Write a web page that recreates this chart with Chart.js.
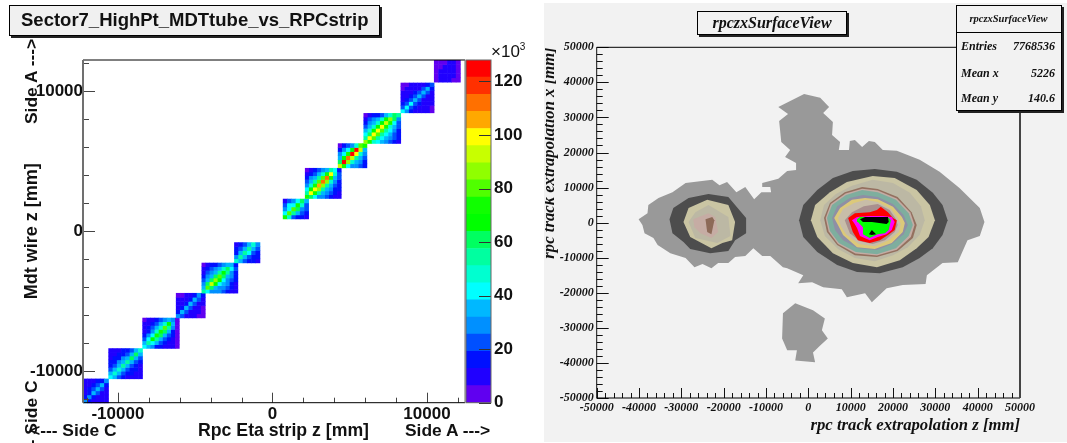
<!DOCTYPE html>
<html>
<head>
<meta charset="utf-8">
<script src="https://cdn.jsdelivr.net/npm/chart.js@4"></script>
<style>
html, body { margin: 0; padding: 0; background: #fff; overflow: hidden; }
#page { position: relative; width: 1067px; height: 443px; overflow: hidden; }
canvas { position: absolute; }
#panel { position: absolute; left: 544px; top: 3px; width: 523px; height: 439px; background: #f2f2f2; }
.t { position: absolute; white-space: nowrap; color: #111; }
.sans { font: bold 17.4px "Liberation Sans", Arial, sans-serif; }
.serif { font: italic bold 12px "Liberation Serif", "Times New Roman", serif; }
.box { position: absolute; border: 1px solid #000; box-shadow: 2px 2px 0 #222; box-sizing: border-box; }
.rot { transform: rotate(-90deg); transform-origin: left top; }
</style>
</head>
<body>
<div id="page">
  <div id="panel"></div>
  <canvas id="heat" width="545" height="443" style="left:0;top:0"></canvas>
  <canvas id="zbar" width="100" height="443" style="left:440px;top:0"></canvas>
  <canvas id="contour" width="522" height="443" style="left:545px;top:0"></canvas>

  <div class="t sans rot" style="left:21px;top:124px">Side A ---&gt;</div>
  <div class="t sans rot" style="left:21px;top:467px">&lt;--- Side C</div>
  <div class="box" style="left:9px;top:5px;width:371px;height:31px;background:#f0f0f0"></div>
  <div class="t sans" style="left:21px;top:9px;font-size:18.5px">Sector7_HighPt_MDTtube_vs_RPCstrip</div>
  <div class="t sans" style="left:30px;top:420px">&lt;--- Side C</div>
  <div class="t sans" style="left:198px;top:420px;font-size:17.7px">Rpc Eta strip z [mm]</div>
  <div class="t sans" style="left:405px;top:420px">Side A ---&gt;</div>
  <div class="t" style="left:491px;top:42px;font:17px 'Liberation Sans',Arial,sans-serif">×10<sup style="font-size:10px;line-height:0">3</sup></div>

  <div class="box" style="left:697px;top:11px;width:150px;height:24px;background:#f2f2f2"></div>
  <div class="t serif" style="left:697px;top:14px;width:150px;text-align:center;font-size:16px">rpczxSurfaceView</div>
  <div class="box" style="left:956px;top:5px;width:106px;height:106px;background:#f2f2f2"></div>
  <div style="position:absolute;left:956px;top:32px;width:105px;height:1px;background:#000"></div>
  <div class="t serif" style="left:956px;top:13px;width:105px;text-align:center;font-size:10.5px">rpczxSurfaceView</div>
  <div class="t serif" style="left:961px;top:39px">Entries</div>
  <div class="t serif" style="left:961px;top:66px">Mean x</div>
  <div class="t serif" style="left:961px;top:91px">Mean y</div>
  <div class="t serif" style="left:1000px;width:55px;top:39px;text-align:right">7768536</div>
  <div class="t serif" style="left:1000px;width:55px;top:66px;text-align:right">5226</div>
  <div class="t serif" style="left:1000px;width:55px;top:91px;text-align:right">140.6</div>
</div>

<script>
// left plot: bin ranges of each chamber block, [low, high] in mm
const blockStrip = [[-12260,-10620],[-10620,-8420],[-8420,-6040],[-6250,-4360],[-4590,-2250],[-2480,-820],
                    [670,2330],[2100,4440],[4230,6100],[5890,8290],[8290,10450],[10450,12150]];
const blockWire = [[-12230,-10510],[-10510,-8340],[-8340,-6160],[-6160,-4390],[-4390,-2230],[-2230,-770],
                   [910,2340],[2370,4540],[4560,6300],[6300,8460],[8490,10630],[10680,12250]];

// counts x 10^3, rows go from low wire z to high wire z
const blockCounts = [
  [[28,16,10,10,10,8],[16,30,18,12,10,8],[12,18,32,20,12,10],[10,14,20,32,20,12],[10,10,14,22,34,18],[7,9,10,14,18,28]],
  [[44,34,20,14,12,12,10,9],[34,46,34,20,16,14,12,10],[24,36,48,36,22,16,14,11],[18,24,36,52,38,24,16,12],
   [14,18,26,38,56,38,24,14],[12,14,18,26,38,58,38,20],[10,12,14,18,24,38,58,34],[7,9,11,13,16,22,34,48]],
  [[42,36,26,18,14,12,10,8,4],[34,56,44,32,20,16,12,9,4],[24,42,66,52,36,24,16,10,4],[16,26,44,72,58,38,24,14,5],
   [12,16,28,46,76,60,36,18,5],[10,14,20,32,50,78,52,26,6],[8,12,16,22,34,50,64,32,6],[5,9,12,16,22,30,36,26,5]],
  [[28,22,12,9,8,6,4],[14,32,20,11,9,7,5],[10,16,34,22,12,8,6],[9,12,18,36,22,12,8],[7,9,12,18,34,20,10],[4,6,8,10,16,26,14]],
  [[52,40,30,26,26,22,16,12,10],[38,82,62,36,30,28,22,14,11],[28,58,92,70,42,32,26,18,12],[20,36,60,88,68,42,30,22,14],
   [16,26,38,58,82,62,38,26,16],[12,20,28,38,54,70,52,28,18],[10,14,20,26,34,48,62,44,20],[6,10,14,18,22,28,36,38,18]],
  [[48,36,20,16,14,12],[30,54,38,22,18,14],[18,34,56,40,24,16],[14,22,36,56,36,20],[10,14,20,34,48,28]],
  [[76,50,24,18,16,12],[42,82,56,32,22,16],[30,44,80,60,30,20],[22,40,42,76,48,22],[12,24,30,42,62,34]],
  [[72,60,42,30,26,20,16,12,10],[52,96,76,52,38,28,20,16,12],[40,70,100,84,56,38,26,18,14],[30,48,76,108,88,54,36,22,16],
   [22,36,52,78,114,86,50,28,18],[14,26,36,52,80,112,76,34,20],[8,18,24,34,50,76,98,48,22],[5,8,14,20,28,38,52,44,16]],
  [[90,72,44,30,26,20,14],[60,124,88,50,34,26,18],[38,66,110,92,54,34,22],[26,40,72,122,96,46,26],[16,28,40,66,124,92,34],[6,14,20,30,48,78,74]],
  [[88,72,48,40,34,30,24,18,12],[54,96,80,52,42,34,28,20,14],[40,62,100,82,54,42,34,24,16],[32,46,66,98,80,52,40,28,18],
   [24,36,48,66,98,76,50,34,20],[18,28,36,48,68,92,72,42,24],[10,20,26,34,46,64,88,62,28],[5,10,14,18,24,32,46,62,56]],
  [[40,26,14,10,9,8,7,6],[22,42,24,13,10,9,8,6],[13,24,40,24,13,10,8,7],[10,13,24,36,22,12,9,7],
   [8,10,13,22,36,22,12,8],[7,8,10,13,22,34,20,10],[6,7,8,10,12,20,32,18],[4,6,7,8,9,11,16,24]],
  [[6,8,8,8,6,5],[6,10,12,10,8,6],[5,8,12,12,10,6],[5,6,9,12,10,6],[5,5,6,8,8,5]]
];

// colour bar, bottom band first
const bandColors = ['#6000f0','#2000ff','#0010ff','#0050ff','#0090ff','#00b8ff','#00ffff','#00ffd0','#00ffa0','#00ff60',
                    '#00ff00','#10ff00','#50ff00','#90ff00','#c8ff00','#ffff00','#ffa800','#ff7000','#ff3000','#ff0000'];
const bandStep = 6.4;
const zTicks = [0,20,40,60,80,100,120];
const heatTicks = [-12000,-10000,-8000,-6000,-4000,-2000,0,2000,4000,6000,8000,10000,12000];
const surfaceTicks = [-50000,-48000,-46000,-44000,-42000,-40000,-38000,-36000,-34000,-32000,-30000,-28000,-26000,-24000,-22000,-20000,-18000,-16000,-14000,-12000,-10000,-8000,-6000,-4000,-2000,
                      0,2000,4000,6000,8000,10000,12000,14000,16000,18000,20000,22000,24000,26000,28000,30000,32000,34000,36000,38000,40000,42000,44000,46000,48000,50000];

// right plot: contour outlines, [z, x] in mm
const outerRegion = [[-1000,36700],[2800,35600],[4900,33000],[3500,31300],[5800,28700],[5600,25000],[7500,23000],[7200,20700],[9600,20700],[9800,23300],[11000,23600],[12700,21600],[14300,23300],[15700,23000],[17600,20700],[20900,20500],[26300,17900],[31000,14500],[35700,9900],[40500,4200],[41600,200],[40500,-3800],[37600,-5000],[35300,-11300],[31700,-11500],[28000,-15000],[27700,-17500],[22300,-17800],[18500,-18700],[15000,-22700],[13400,-20100],[9100,-21300],[7900,-19000],[3500,-18400],[900,-17000],[-2400,-17300],[-1200,-15000],[-5000,-13000],[-6000,-12700],[-9000,-9500],[-10900,-9500],[-13000,-7300],[-14900,-9500],[-17300,-9800],[-18900,-11500],[-21300,-11500],[-22900,-13000],[-25000,-11800],[-26900,-12700],[-29000,-10100],[-32600,-8700],[-35600,-6400],[-36600,-4400],[-38700,-3000],[-39200,-700],[-40100,1000],[-38000,2700],[-37800,5000],[-35400,7000],[-32100,8700],[-29000,11300],[-22700,12200],[-21000,10700],[-19200,11600],[-17000,8700],[-14900,10200],[-12800,6700],[-11100,8700],[-8800,8700],[-9000,10200],[-10900,10200],[-10900,11300],[-7100,12500],[-5000,14700],[-2900,15000],[-2900,17000],[-5500,18700],[-4300,20700],[-6400,23000],[-6900,29000],[-4800,31000],[-7100,33000]];
const bottomRegion = [[-3100,-23000],[-6000,-25800],[-6200,-33000],[-5000,-36400],[-2700,-36400],[-3100,-39300],[1600,-39800],[1100,-37000],[2800,-35000],[4600,-33000],[3200,-30700],[3900,-27300],[1100,-25000]];
const sideDark = [[-32800,1000],[-31900,4200],[-28300,7000],[-23600,8200],[-18900,7300],[-14700,1300],[-14700,-3000],[-17300,-5000],[-18900,-8100],[-23200,-8700],[-27900,-7500],[-29500,-5500],[-32100,-3000]];
const sideBeige = [[-29500,200],[-28300,4200],[-23900,6500],[-18900,5000],[-17300,200],[-18000,-5000],[-20300,-5800],[-22900,-7300],[-27900,-4100]];
const sideInner = [[-28300,200],[-26700,3000],[-23600,5000],[-18900,1600],[-18400,-3800],[-21500,-5800],[-26700,-4400]];
const sideRose = [[-27200,1000],[-23600,2700],[-22000,1600],[-21300,-2700],[-22900,-4400],[-25500,-3000],[-26900,-1300]];
const sideBrown = [[-24300,1000],[-22700,1600],[-22200,700],[-22900,-3300],[-23900,-2700]];
const coreDark = [[-2200,700],[-1200,5000],[2100,9300],[5800,12700],[10500,14700],[15700,15300],[20900,14500],[25600,12200],[29400,8500],[31700,5000],[32900,700],[31700,-3500],[29400,-7300],[26300,-10100],[22300,-12700],[16900,-14400],[11500,-14100],[6800,-12100],[2100,-8400],[-1200,-4100]];
const coreBeige = [[600,700],[1600,5000],[5100,8700],[9100,11600],[15200,13300],[20400,12700],[25600,9300],[28700,5000],[29900,700],[28400,-4100],[25600,-7300],[21600,-10700],[16200,-12700],[10500,-11500],[5800,-8700],[2100,-4100]];
const coreInner = [[2800,700],[3700,5000],[6500,8200],[10300,10500],[15200,12200],[20000,11300],[24000,8500],[26600,4700],[27500,700],[26300,-3500],[23500,-7000],[20000,-9300],[15700,-11000],[11000,-10100],[7000,-7500],[3900,-3800]];
const coreBrown = [[3700,1300],[5100,5600],[8600,8700],[12700,10200],[16400,9600],[21100,7300],[24400,3000],[25600,-700],[24700,-4400],[21100,-8100],[16200,-9800],[11000,-9300],[6800,-6400],[4400,-2700]];
const coreRose = [[4100,1300],[5300,5300],[8800,8300],[12700,9700],[16400,9200],[20900,6900],[24100,2900],[25100,-700],[24200,-4100],[20900,-7700],[16200,-9400],[11100,-8800],[7000,-6100],[4800,-2500]];
const coreTeal = [[4400,1300],[5600,5000],[8900,7900],[12700,9300],[16400,8700],[20700,6500],[23700,2700],[24700,-700],[23700,-3800],[20700,-7300],[16200,-9000],[11200,-8400],[7200,-5800],[5100,-2400]];
const coreSlate = [[5600,1300],[6800,4700],[9800,7000],[12900,7900],[16400,7300],[20000,5300],[22500,2200],[23500,-700],[22500,-3300],[19700,-6100],[16200,-7800],[11700,-7300],[8200,-5000],[6300,-2100]];
const coreYellow = [[6100,1300],[7500,4200],[10300,6500],[13400,7000],[16400,6700],[20000,4500],[22100,1600],[22800,-100],[22300,-2700],[19700,-5800],[15700,-7500],[11500,-7000],[8200,-3500],[7000,-700]];
const coreTan = [[7000,1300],[8200,3900],[10800,5600],[13600,6500],[16400,5900],[19500,3900],[21100,1300],[21800,-400],[21400,-2700],[19000,-5000],[15700,-6700],[11900,-6100],[8900,-3300],[7700,-1000]];
const coreMauve = [[8600,700],[10300,3000],[13100,4700],[16400,5300],[19200,3600],[20700,1000],[21100,-700],[20400,-2700],[18100,-5000],[15200,-6100],[12200,-5300],[9800,-3000]];
const coreRed = [[9400,1300],[11000,2700],[14500,3000],[16200,3600],[17100,4500],[18800,3000],[20000,1300],[20900,700],[20400,-2100],[18800,-3500],[16900,-5000],[14500,-5800],[11700,-5000],[10500,-2700],[9800,-100]];
const coreMagenta = [[10300,700],[11500,1600],[14100,1900],[17600,1900],[19700,1600],[20400,200],[19700,-2100],[18500,-3300],[16400,-4100],[14500,-5000],[12200,-3800],[11500,-1500],[10800,-100]];
const coreGreen = [[11500,1000],[12200,1600],[18800,1600],[19500,700],[19000,-2100],[18100,-3000],[16400,-3300],[14500,-4400],[12900,-3300],[12900,-1300],[11700,200]];
const coreBlackBar = [[12200,1000],[13400,1600],[18800,1600],[19000,200],[18500,-400],[15000,200],[12900,200]];
const coreBlackDot = [[15000,-2100],[16000,-3300],[15000,-3500],[14300,-3300]];

const contourShapes = [outerRegion,bottomRegion,sideDark,sideBeige,sideInner,sideRose,sideBrown,coreDark,coreBeige,coreInner,coreBrown,coreRose,coreTeal,coreSlate,coreYellow,coreTan,coreMauve,coreRed,coreMagenta,coreGreen,coreBlackBar,coreBlackDot];
const contourColors = ['#999999','#999999','#4d4d4d','#cac5a3','#bcb8a4','#c6aca4','#8d6a58','#4d4d4d','#cac5a3','#bcb8a4','#94705f','#c3aca4','#7eae9e','#8f8fa5','#dcc97a','#c8bda8','#a98f8e','#ff0000','#ff00ff','#00ff00','#000000','#000000'];

Chart.defaults.animation = false;
Chart.defaults.responsive = false;
Chart.defaults.plugins.legend.display = false;
Chart.defaults.plugins.tooltip.enabled = false;

const SANS = '"Liberation Sans", Arial, sans-serif';
const SERIF = '"Liberation Serif", "Times New Roman", serif';

function bandColor(v) {
  return bandColors[Math.min(bandColors.length - 1, Math.floor(v / bandStep))];
}

// one cell per bin, centre plus width and height in mm
const heatData = [];
blockCounts.forEach((rows, b) => {
  const [x0, x1] = blockStrip[b], [y0, y1] = blockWire[b];
  const h = (y1 - y0) / rows.length;
  rows.forEach((row, r) => {
    const w = (x1 - x0) / row.length;
    row.forEach((v, c) => {
      heatData.push({ x: x0 + (c + 0.5) * w, y: y0 + (r + 0.5) * h, w: w, h: h, v: v });
    });
  });
});

const heatCells = {
  id: 'heatCells',
  beforeDatasetsDraw(chart) {
    const { ctx, scales: { x, y } } = chart;
    chart.data.datasets[0].data.forEach(c => {
      const l = x.getPixelForValue(c.x - c.w / 2), r = x.getPixelForValue(c.x + c.w / 2);
      const t = y.getPixelForValue(c.y + c.h / 2), b = y.getPixelForValue(c.y - c.h / 2);
      ctx.fillStyle = bandColor(c.v);
      ctx.fillRect(l, t, r - l + 0.5, b - t + 0.5);
    });
  }
};

// ROOT style frame with ticks pointing into the plot
function rootFrame(o) {
  return {
    id: 'rootFrame',
    afterDatasetsDraw(chart) {
      const { ctx, chartArea: a, scales: { x, y } } = chart;
      ctx.save();
      ctx.strokeStyle = o.tickColor;
      ctx.lineWidth = 1;
      ctx.beginPath();
      x.ticks.forEach(t => {
        const p = Math.round(x.getPixelForValue(t.value)) + 0.5;
        const len = t.value % 10000 === 0 ? o.xMajor : o.xMinor;
        ctx.moveTo(p, a.bottom);
        ctx.lineTo(p, a.bottom - len);
      });
      y.ticks.forEach(t => {
        const p = Math.round(y.getPixelForValue(t.value)) + 0.5;
        const len = t.value % 10000 === 0 ? o.yMajor : o.yMinor;
        ctx.moveTo(a.left, p);
        ctx.lineTo(a.left + len, p);
      });
      ctx.stroke();
      // frame sides
      ctx.strokeStyle = '#000';
      ctx.beginPath();
      ctx.moveTo(a.left, a.top); ctx.lineTo(a.right, a.top);
      ctx.moveTo(a.left, a.bottom); ctx.lineTo(a.right, a.bottom);
      ctx.stroke();
      ctx.strokeStyle = o.leftColor;
      ctx.lineWidth = o.leftWidth;
      ctx.beginPath();
      ctx.moveTo(a.left, a.top); ctx.lineTo(a.left, a.bottom);
      ctx.stroke();
      ctx.strokeStyle = o.rightColor;
      ctx.lineWidth = o.rightWidth;
      ctx.beginPath();
      ctx.moveTo(a.right, a.top); ctx.lineTo(a.right, a.bottom);
      ctx.stroke();
      ctx.restore();
    }
  };
}

function setTicks(list) {
  return axis => { axis.ticks = list.map(v => ({ value: v })); };
}
const majorOnly = v => (v % 10000 === 0 ? String(v) : '');

new Chart(document.getElementById('heat'), {
  type: 'scatter',
  data: { datasets: [{ data: heatData, pointRadius: 0 }] },
  options: {
    layout: { autoPadding: false, padding: { left: 0, top: 60, right: 80, bottom: 0 } },
    scales: {
      x: {
        min: -12260, max: 12460,
        afterBuildTicks: setTicks(heatTicks),
        afterFit: s => { s.height = 40.3; },
        grid: { display: false, drawTicks: false }, border: { display: false },
        ticks: { autoSkip: false, maxRotation: 0, minRotation: 0, padding: 1, color: '#111',
                 font: { family: SANS, size: 17, weight: 'bold' }, callback: majorOnly }
      },
      y: {
        min: -12230, max: 12250,
        afterBuildTicks: setTicks(heatTicks),
        afterFit: s => { s.width = 83; },
        grid: { display: false, drawTicks: false }, border: { display: false },
        title: { display: true, text: 'Mdt wire z [mm]', color: '#111', padding: { top: 21, bottom: 0 },
                 font: { family: SANS, size: 18, weight: 'bold' } },
        ticks: { autoSkip: false, padding: 0, color: '#111',
                 font: { family: SANS, size: 17, weight: 'bold' }, callback: majorOnly }
      }
    }
  },
  plugins: [heatCells, rootFrame({ tickColor: '#444', xMajor: 10, xMinor: 5, yMajor: 12, yMinor: 6,
                                   leftColor: '#707070', leftWidth: 2, rightColor: '#707070', rightWidth: 1 })]
});

const zShortTicks = {
  id: 'zShortTicks',
  afterDatasetsDraw(chart) {
    const { ctx, chartArea: a, scales: { y } } = chart;
    ctx.save();
    ctx.strokeStyle = '#333';
    ctx.beginPath();
    y.ticks.forEach(t => {
      const p = Math.round(y.getPixelForValue(t.value)) + 0.5;
      ctx.moveTo(a.right, p);
      ctx.lineTo(a.right - 12, p);
    });
    ctx.stroke();
    ctx.strokeStyle = '#666';
    ctx.strokeRect(a.left, a.top, a.right - a.left, a.bottom - a.top);
    ctx.restore();
  }
};

new Chart(document.getElementById('zbar'), {
  type: 'bar',
  data: {
    labels: ['z'],
    datasets: bandColors.map(c => ({ data: [bandStep], backgroundColor: c, borderWidth: 0,
                                     barPercentage: 1, categoryPercentage: 1 }))
  },
  options: {
    layout: { autoPadding: false, padding: { left: 26, top: 60, right: 0, bottom: 40.3 } },
    scales: {
      x: { stacked: true, display: false },
      y: {
        stacked: true, position: 'right', min: 0, max: 128,
        afterBuildTicks: setTicks(zTicks),
        afterFit: s => { s.width = 49; },
        grid: { display: false, drawTicks: false }, border: { display: false },
        ticks: { padding: 3, color: '#111', font: { family: SANS, size: 17, weight: 'bold' } }
      }
    }
  },
  plugins: [zShortTicks]
});

new Chart(document.getElementById('contour'), {
  type: 'scatter',
  data: {
    datasets: contourShapes.map((shape, i) => ({
      data: shape.concat([shape[0]]).map(p => ({ x: p[0], y: p[1] })),
      showLine: true, pointRadius: 0, borderWidth: 0, tension: 0,
      borderColor: contourColors[i], backgroundColor: contourColors[i],
      fill: 'shape', order: contourShapes.length - i
    }))
  },
  options: {
    layout: { autoPadding: false, padding: { left: 0, top: 47.3, right: 47, bottom: 0 } },
    scales: {
      x: {
        min: -50000, max: 50000,
        afterBuildTicks: setTicks(surfaceTicks),
        afterFit: s => { s.height = 45; },
        grid: { display: false, drawTicks: false }, border: { display: false },
        title: { display: true, align: 'end', text: 'rpc track extrapolation z [mm]', color: '#111', padding: { top: 0, bottom: 7 },
                 font: { family: SERIF, size: 16.7, weight: 'bold', style: 'italic' } },
        ticks: { autoSkip: false, maxRotation: 0, minRotation: 0, padding: 3, color: '#111',
                 font: { family: SERIF, size: 12, weight: 'bold', style: 'italic' }, callback: majorOnly }
      },
      y: {
        min: -50000, max: 50000,
        afterBuildTicks: setTicks(surfaceTicks),
        afterFit: s => { s.width = 51.7; },
        grid: { display: false, drawTicks: false }, border: { display: false },
        title: { display: true, align: 'end', text: 'rpc track extrapolation x [mm]', color: '#111', padding: { top: -5, bottom: 0 },
                 font: { family: SERIF, size: 16.7, weight: 'bold', style: 'italic' } },
        ticks: { autoSkip: false, padding: 3, color: '#111',
                 font: { family: SERIF, size: 12, weight: 'bold', style: 'italic' }, callback: majorOnly }
      }
    }
  },
  plugins: [rootFrame({ tickColor: '#111', xMajor: 10, xMinor: 5, yMajor: 12, yMinor: 6,
                        leftColor: '#111', leftWidth: 1, rightColor: '#444', rightWidth: 2 })]
});
</script>
</body>
</html>
